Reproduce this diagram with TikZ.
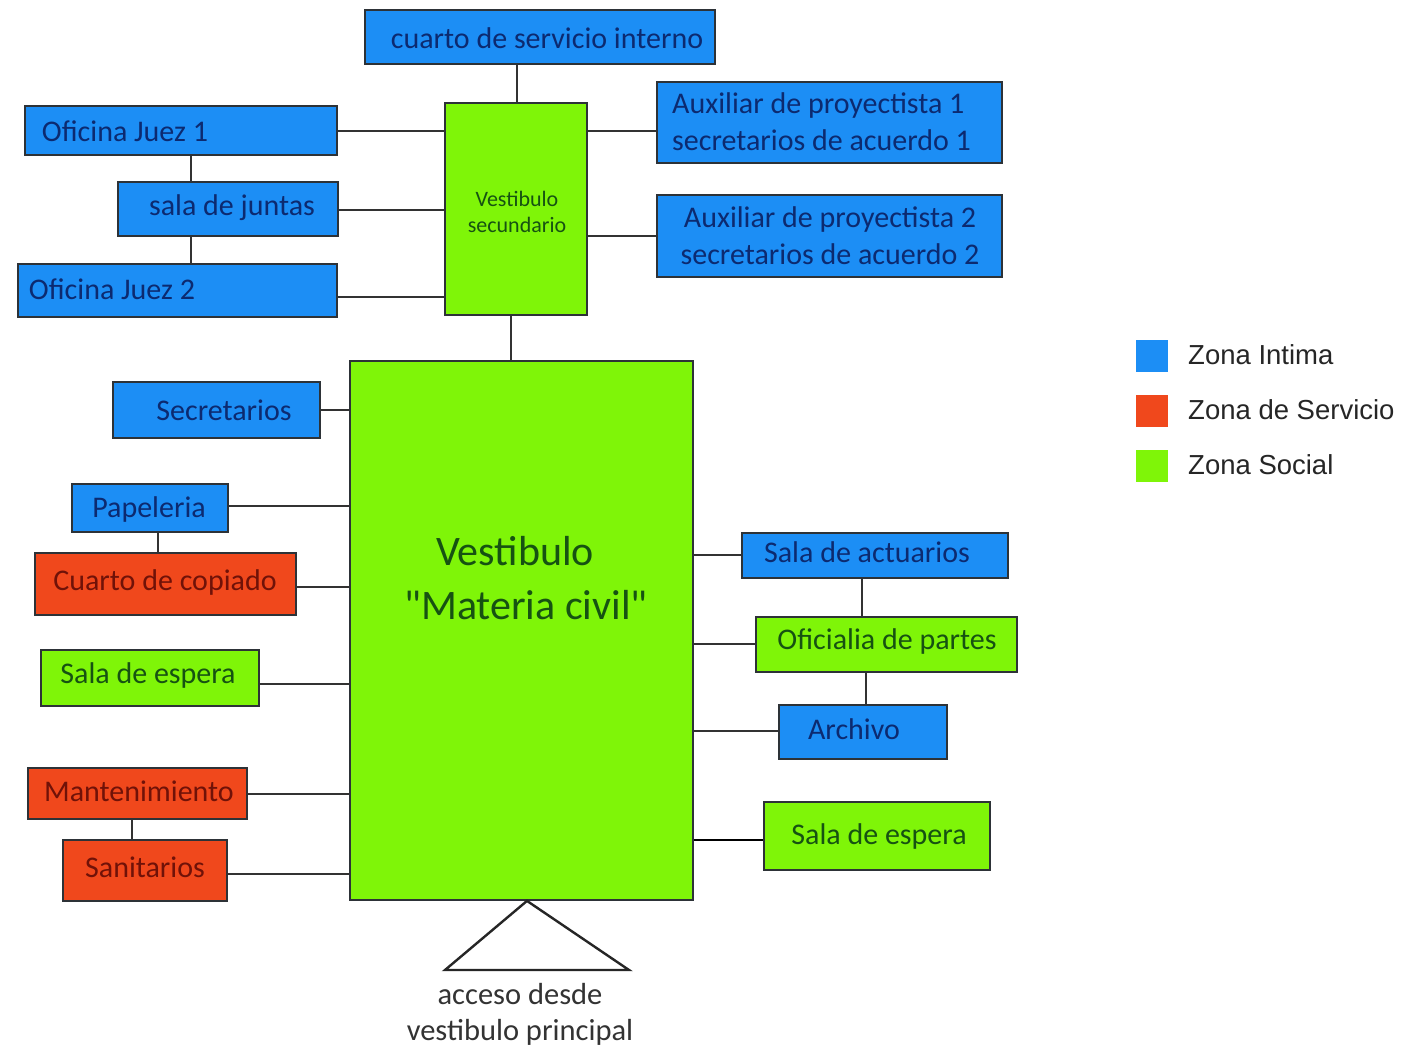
\documentclass[tikz,border=0pt]{standalone}
\usepackage{fontspec}
\setmainfont{Carlito}
\newfontfamily\legendfont{Liberation Sans}
\definecolor{zblue}{RGB}{28,142,245}
\definecolor{zred}{RGB}{240,72,28}
\definecolor{zgreen}{RGB}{127,245,8}
\definecolor{tblue}{RGB}{12,42,112}
\definecolor{tgreen}{RGB}{22,82,18}
\definecolor{tred}{RGB}{112,18,8}
\definecolor{boxline}{RGB}{45,50,55}
\definecolor{conn}{RGB}{50,50,50}
\newcommand\roomrect[6]{\node[room, fill=#6, minimum width={#4-#2}, minimum height={#5-#3}] (#1) at ({(#2+#4)/2},{(#3+#5)/2}) {};}
\begin{document}
\begin{tikzpicture}[x=1pt,y=-1pt,
  room/.style={draw=boxline, line width=1.8pt, inner sep=0pt},
  legsq/.style={inner sep=0pt, minimum width=32pt, minimum height=32pt},
  txt/.style={inner sep=0pt, font=\fontsize{30}{37}\selectfont},
  conline/.style={draw=conn, line width=1.6pt},
  legtxt/.style={inner sep=0pt, anchor=west, text=black!85, font=\legendfont\fontsize{27.5}{33}\selectfont}
]
\useasboundingbox[fill=white] (0,0) rectangle (1401,1050);

% boxes
\roomrect{cs}{365}{10}{715}{64}{zblue}
\roomrect{vs}{445}{103}{587}{315}{zgreen}
\roomrect{aux1}{657}{82}{1002}{163}{zblue}
\roomrect{aux2}{657}{195}{1002}{277}{zblue}
\roomrect{oj1}{25}{106}{337}{155}{zblue}
\roomrect{sj}{118}{182}{338}{236}{zblue}
\roomrect{oj2}{18}{264}{337}{317}{zblue}
\roomrect{mv}{350}{361}{693}{900}{zgreen}
\roomrect{sec}{113}{382}{320}{438}{zblue}
\roomrect{pap}{72}{484}{228}{532}{zblue}
\roomrect{cop}{35}{553}{296}{615}{zred}
\roomrect{seL}{41}{650}{259}{706}{zgreen}
\roomrect{man}{28}{768}{247}{819}{zred}
\roomrect{san}{63}{840}{227}{901}{zred}
\roomrect{act}{742}{533}{1008}{578}{zblue}
\roomrect{ofp}{756}{617}{1017}{672}{zgreen}
\roomrect{arc}{779}{705}{947}{759}{zblue}
\roomrect{seR}{764}{802}{990}{870}{zgreen}

% connectors
\draw[conline] (cs.south -| 517,0) -- (vs.north -| 517,0);
\draw[conline] (oj1.east |- 0,131) -- (vs.west |- 0,131);
\draw[conline] (sj.east |- 0,210) -- (vs.west |- 0,210);
\draw[conline] (oj2.east |- 0,297) -- (vs.west |- 0,297);
\draw[conline] (vs.east |- 0,131) -- (aux1.west |- 0,131);
\draw[conline] (vs.east |- 0,236) -- (aux2.west |- 0,236);
\draw[conline] (oj1.south -| 191,0) -- (sj.north -| 191,0);
\draw[conline] (sj.south -| 191,0) -- (oj2.north -| 191,0);
\draw[conline] (vs.south -| 511,0) -- (mv.north -| 511,0);
\draw[conline] (sec.east |- 0,410) -- (mv.west |- 0,410);
\draw[conline] (pap.east |- 0,506) -- (mv.west |- 0,506);
\draw[conline] (cop.east |- 0,587) -- (mv.west |- 0,587);
\draw[conline] (seL.east |- 0,684) -- (mv.west |- 0,684);
\draw[conline] (man.east |- 0,794) -- (mv.west |- 0,794);
\draw[conline] (san.east |- 0,874) -- (mv.west |- 0,874);
\draw[conline] (pap.south -| 158,0) -- (cop.north -| 158,0);
\draw[conline] (man.south -| 132,0) -- (san.north -| 132,0);
\draw[conline] (mv.east |- 0,555) -- (act.west |- 0,555);
\draw[conline] (mv.east |- 0,644) -- (ofp.west |- 0,644);
\draw[conline] (mv.east |- 0,731) -- (arc.west |- 0,731);
\draw[conline, draw=black, line width=2.4pt] (mv.east |- 0,840) -- (seR.west |- 0,840);
\draw[conline] (act.south -| 862,0) -- (ofp.north -| 862,0);
\draw[conline] (ofp.south -| 866,0) -- (arc.north -| 866,0);

% access triangle
\draw[black!85, line width=2.4pt, line join=miter] (mv.south -| 527,0) -- (445,970) -- (629,970) -- cycle;

% texts
\node[txt, text=tblue] (cst) at (547,38) {cuarto de servicio interno};
\node[txt, text=tblue, anchor=west, align=left] (aux1t) at (672,122) {Auxiliar de proyectista 1\\secretarios de acuerdo 1};
\node[txt, text=tblue, align=center] (aux2t) at (830,236) {Auxiliar de proyectista 2\\secretarios de acuerdo 2};
\node[txt, text=tgreen, align=center, font=\fontsize{22}{26}\selectfont] (vst) at (517,212) {Vestibulo\\secundario};
\node[txt, text=tblue] (oj1t) at (125,131) {Oficina Juez 1};
\node[txt, text=tblue] (sjt) at (232,208) {sala de juntas};
\node[txt, text=tblue] (oj2t) at (112,289) {Oficina Juez 2};
\node[txt, text=tblue] (sect) at (224,410) {Secretarios};
\node[txt, text=tblue] (papt) at (149,509) {Papeleria};
\node[txt, text=tred] (copt) at (165,582) {Cuarto de copiado};
\node[txt, text=tgreen] (seLt) at (148,675) {Sala de espera};
\node[txt, text=tred] (mant) at (139,791) {Mantenimiento};
\node[txt, text=tred] (sant) at (145,867) {Sanitarios};
\node[txt, text=tblue] (actt) at (867,552) {Sala de actuarios};
\node[txt, text=tgreen] (ofpt) at (887,641) {Oficialia de partes};
\node[txt, text=tblue] (arct) at (854,729) {Archivo};
\node[txt, text=tgreen] (seRt) at (879,836) {Sala de espera};
\node[txt, text=tgreen, font=\fontsize{42}{50}\selectfont] (mvt1) at (515,551) {Vestibulo};
\node[txt, text=tgreen, font=\fontsize{42}{50}\selectfont] (mvt2) at (526,605) {\textquotedbl Materia civil\textquotedbl};
\node[txt, text=black!80, align=center, font=\fontsize{30.5}{36}\selectfont] (acc) at (520,1014) {acceso desde\\vestibulo principal};

% legend
\node[legsq, fill=zblue] (lb) at (1152,356) {};
\node[legsq, fill=zred] (lr) at (1152,411) {};
\node[legsq, fill=zgreen] (lg) at (1152,466) {};
\node[legtxt] (lbt) at (1188,355) {Zona Intima};
\node[legtxt] (lrt) at (1188,410) {Zona de Servicio};
\node[legtxt] (lgt) at (1188,465) {Zona Social};
\end{tikzpicture}
\end{document}
